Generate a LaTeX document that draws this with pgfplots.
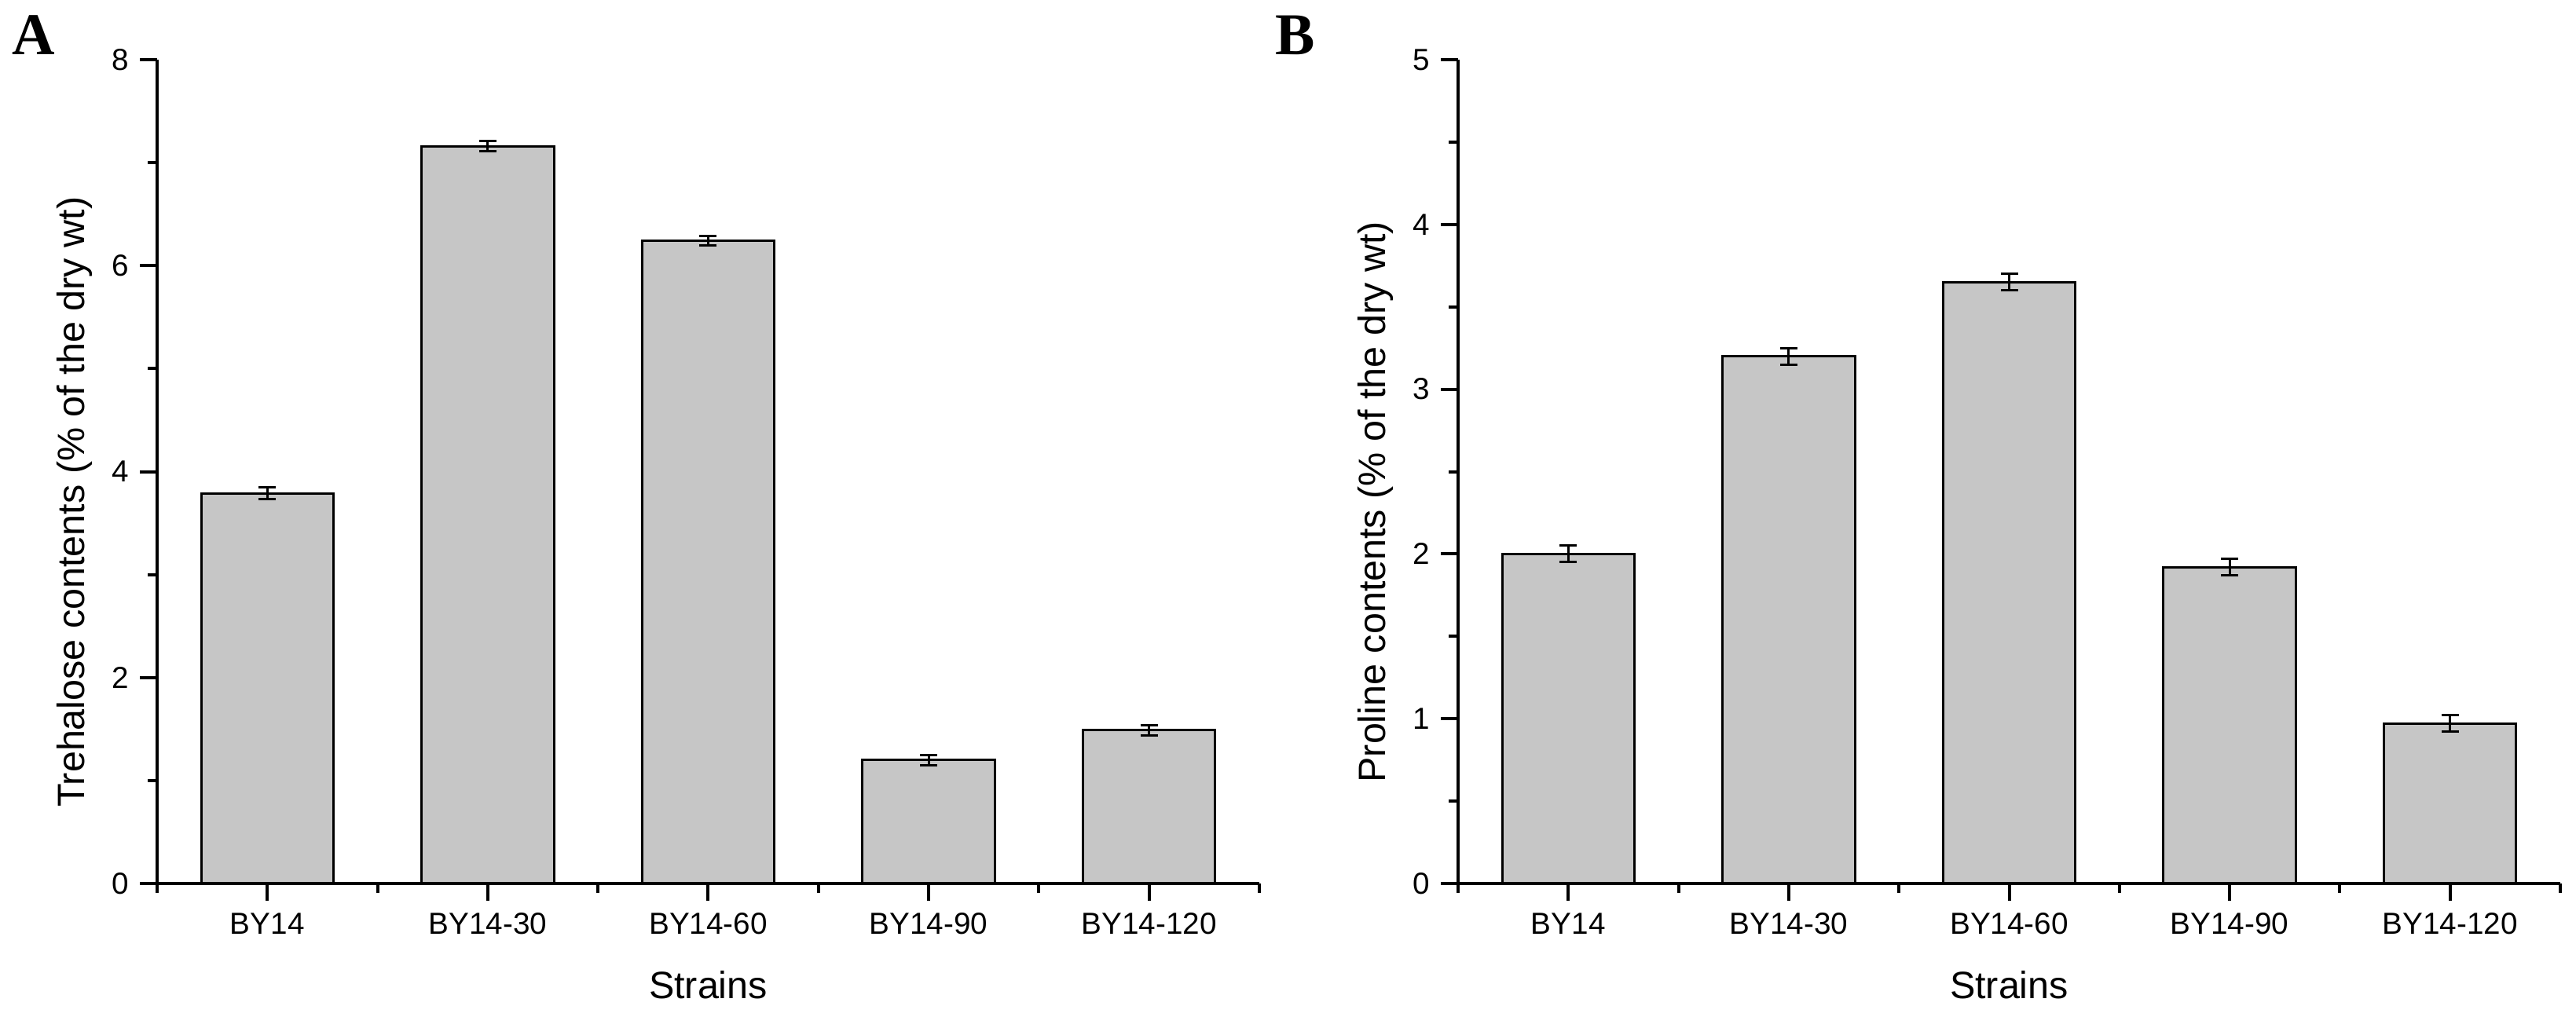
\documentclass[border=0pt]{standalone}
\usepackage{fontspec}
\setmainfont{Liberation Sans}
\newfontfamily\timesfont{Liberation Serif}
\usepackage{pgfplots}
\usepackage{pgfplotstable}
\pgfplotsset{compat=1.18}
\definecolor{barfill}{RGB}{198,198,198}

\pgfplotstableread{
x y e
0 3.79 0.055
1 7.16 0.05
2 6.24 0.045
3 1.20 0.05
4 1.49 0.05
}\dataA

\pgfplotstableread{
x y e
0 2.00 0.05
1 3.20 0.05
2 3.65 0.05
3 1.92 0.05
4 0.97 0.05
}\dataB

\pgfplotsset{
  mybar/.style={
    scale only axis, width=280.6pt, height=209.8pt,
    anchor=south west,
    axis x line*=bottom, axis y line*=left,
    xmin=-0.5, xmax=4.5, ymin=0,
    xtick={0,...,4},
    xticklabels={BY14,BY14-30,BY14-60,BY14-90,BY14-120},
    minor xtick={-0.5,0.5,...,4.5},
    minor y tick num=1,
    tick align=outside,
    major tick length=4.4pt, minor tick length=2.4pt,
    every tick/.style={black, line width=0.8pt},
    axis line style={line width=0.8pt, black},
    tick label style={font=\fontsize{7.74}{9}\selectfont, inner sep=0pt},
    xticklabel style={anchor=base, yshift=-8.6pt},
    yticklabel style={anchor=east, xshift=-2.6pt},
    label style={font=\fontsize{9.7}{11}\selectfont},
    /pgf/number format/assume math mode=true,
    xlabel={Strains},
    xlabel style={at={(axis description cs:0.5,-0.1401)}, anchor=base, inner sep=0pt},
    ylabel style={at={(axis description cs:-0.0656,0.463)}, anchor=base, inner sep=0pt},
    axis on top,
    clip=false,
  },
  mybarplot/.style={
    ybar, bar width=0.6, fill=barfill, draw=black, line width=0.6pt,
    error bars/.cd, y dir=both, y explicit,
    error bar style={line width=0.6pt, black},
    error mark=|,
    error mark options={mark size=2.2pt, line width=0.6pt, black},
  },
}

\begin{document}
\begin{tikzpicture}
\useasboundingbox (0,0) rectangle (655.8pt,259pt);
\begin{axis}[mybar, at={(40pt,34pt)}, ymax=8, ytick={0,2,4,6,8},
  ylabel={Trehalose contents (\% of the dry wt)}]
\addplot[mybarplot] table[x=x, y=y, y error=e] {\dataA};
\end{axis}
\begin{axis}[mybar, at={(371.2pt,34pt)}, ymax=5, ytick={0,1,2,3,4,5},
  ylabel={Proline contents (\% of the dry wt)}]
\addplot[mybarplot] table[x=x, y=y, y error=e] {\dataB};
\end{axis}
\node[anchor=base west, inner sep=0pt, font=\timesfont\bfseries\fontsize{15.1}{16}\selectfont] at (3pt,245pt) {A};
\node[anchor=base west, inner sep=0pt, font=\timesfont\bfseries\fontsize{15.1}{16}\selectfont] at (324.4pt,245pt) {B};
\end{tikzpicture}
\end{document}
